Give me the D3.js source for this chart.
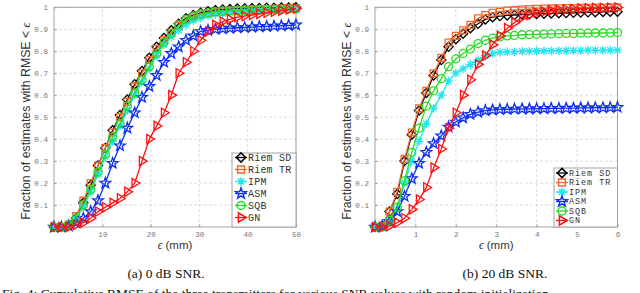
<!DOCTYPE html>
<html><head><meta charset="utf-8">
<script src="https://cdn.jsdelivr.net/npm/d3@7"></script>
<style>body{margin:0;background:#fff}svg{display:block}</style>
</head><body><svg id="c" width="640" height="293"></svg>
<script>
// ---- data ----
const seriesNames = ["Riem SD","Riem TR","IPM","ASM","SQB","GN"];
const xA = [0,1.52,3.03,4.55,6.06,7.58,9.09,10.61,12.12,13.64,15.15,16.67,18.18,19.70,21.21,22.73,24.24,25.76,27.27,28.79,30.30,31.82,33.33,34.85,36.36,37.88,39.39,40.91,42.42,43.94,45.45,46.97,48.48,50];
const sdA  = [0,0,0.01,0.04,0.11,0.19,0.28,0.36,0.44,0.51,0.58,0.65,0.71,0.77,0.82,0.86,0.895,0.925,0.95,0.965,0.975,0.982,0.987,0.99,0.992,0.994,0.995,0.996,0.997,0.998,0.998,0.999,0.999,1.0];
const trA  = [0,0,0.01,0.05,0.12,0.20,0.28,0.36,0.43,0.50,0.57,0.64,0.70,0.76,0.81,0.85,0.885,0.915,0.94,0.955,0.965,0.972,0.978,0.982,0.985,0.987,0.989,0.99,0.991,0.992,0.993,0.994,0.995,0.996];
const ipmA = [0,0,0.01,0.04,0.09,0.16,0.24,0.32,0.39,0.46,0.53,0.60,0.66,0.72,0.78,0.83,0.865,0.895,0.92,0.94,0.952,0.962,0.968,0.972,0.976,0.979,0.981,0.983,0.985,0.987,0.988,0.989,0.99,0.991];
const asmA = [0,0,0.005,0.02,0.04,0.07,0.12,0.20,0.29,0.37,0.45,0.52,0.59,0.64,0.69,0.75,0.79,0.82,0.85,0.87,0.89,0.895,0.90,0.903,0.905,0.907,0.908,0.91,0.912,0.913,0.915,0.916,0.918,0.92];
const sqbA = [0,0,0.01,0.04,0.10,0.17,0.25,0.33,0.41,0.47,0.55,0.61,0.67,0.73,0.79,0.84,0.88,0.92,0.945,0.96,0.97,0.975,0.98,0.982,0.984,0.986,0.987,0.988,0.989,0.99,0.99,0.991,0.992,0.993];
const gnA  = [0,0,0,0.01,0.02,0.04,0.07,0.09,0.11,0.13,0.16,0.20,0.30,0.40,0.46,0.52,0.60,0.70,0.75,0.80,0.85,0.89,0.92,0.935,0.945,0.955,0.96,0.965,0.97,0.975,0.98,0.985,0.99,0.995];

const xB = [0,0.18,0.36,0.55,0.73,0.91,1.09,1.27,1.45,1.64,1.82,2.00,2.18,2.36,2.55,2.73,2.91,3.09,3.27,3.45,3.64,3.82,4.00,4.18,4.36,4.55,4.73,4.91,5.09,5.27,5.45,5.64,5.82,6];
const sdB  = [0,0.005,0.07,0.15,0.30,0.42,0.53,0.61,0.69,0.76,0.82,0.855,0.88,0.905,0.925,0.945,0.955,0.96,0.963,0.965,0.967,0.969,0.97,0.971,0.972,0.973,0.974,0.975,0.976,0.977,0.978,0.979,0.98,0.98];
const trB  = [0,0.005,0.07,0.16,0.31,0.43,0.54,0.62,0.70,0.77,0.84,0.87,0.895,0.92,0.95,0.965,0.975,0.98,0.985,0.988,0.99,0.992,0.993,0.994,0.995,0.996,0.997,0.997,0.998,0.998,0.999,0.999,1.0,1.0];
const ipmB = [0,0,0.02,0.08,0.20,0.30,0.39,0.47,0.54,0.60,0.665,0.70,0.72,0.74,0.76,0.78,0.79,0.795,0.797,0.798,0.80,0.80,0.801,0.801,0.802,0.802,0.803,0.803,0.803,0.804,0.804,0.804,0.805,0.805];
const asmB = [0,0.005,0.025,0.07,0.14,0.22,0.29,0.34,0.38,0.415,0.455,0.478,0.497,0.513,0.523,0.53,0.533,0.535,0.536,0.537,0.538,0.538,0.539,0.539,0.54,0.54,0.541,0.541,0.542,0.542,0.543,0.543,0.544,0.545];
const sqbB = [0,0,0.03,0.09,0.21,0.34,0.45,0.55,0.62,0.675,0.73,0.765,0.79,0.81,0.835,0.85,0.86,0.865,0.87,0.872,0.875,0.876,0.877,0.878,0.879,0.88,0.881,0.881,0.882,0.882,0.883,0.883,0.884,0.885];
const gnB  = [0,0,0.005,0.02,0.04,0.08,0.125,0.18,0.27,0.355,0.45,0.52,0.60,0.67,0.74,0.78,0.83,0.87,0.905,0.93,0.955,0.965,0.975,0.98,0.985,0.988,0.99,0.992,0.994,0.995,0.996,0.997,0.998,0.999];

const yTicks = [0.1,0.2,0.3,0.4,0.5,0.6,0.7,0.8,0.9,1];
const yTickLabels = ["0.1","0.2","0.3","0.4","0.5","0.6","0.7","0.8","0.9","1"];
const xTicksA = [10,20,30,40,50];
const xTicksB = [1,2,3,4,5,6];
const captionA = "(a) 0 dB SNR.";
const captionB = "(b) 20 dB SNR.";
const figCaption = "Fig. 4: Cumulative RMSE of the three transmitters for various SNR values with random initialization";

// ---- styles ----
const colors = ["#000000","#EF6A32","#22E5F0","#1030F0","#22DD22","#FF1010"];
const markers = ["diamond","square","asterisk","star","circle","tri"];

function markerPath(type){
  const p = d3.path();
  if(type==="diamond"){const r=4.6;p.moveTo(0,-r);p.lineTo(r,0);p.lineTo(0,r);p.lineTo(-r,0);p.closePath();}
  else if(type==="square"){const r=3.4;p.rect(-r,-r,2*r,2*r);}
  else if(type==="circle"){p.arc(0,0,4,0,2*Math.PI);p.closePath();}
  else if(type==="asterisk"){const r=4.3;for(let k=0;k<4;k++){const a=k*Math.PI/4;p.moveTo(-r*Math.cos(a),-r*Math.sin(a));p.lineTo(r*Math.cos(a),r*Math.sin(a));}}
  else if(type==="star"){const R=5.6,ri=2.3;for(let k=0;k<10;k++){const a=-Math.PI/2+k*Math.PI/5;const rr=k%2?ri:R;const X=rr*Math.cos(a),Y=rr*Math.sin(a);if(k===0)p.moveTo(X,Y);else p.lineTo(X,Y);}p.closePath();}
  else if(type==="tri"){const r=5.2;p.moveTo(r,0);p.lineTo(-r*0.5,-r*0.9);p.lineTo(-r*0.5,r*0.9);p.closePath();}
  return p.toString();
}

const svg = d3.select("#c");
const tickFont = "'Liberation Mono', 'DejaVu Sans Mono', monospace";

function panel(opt){
  const x = d3.scaleLinear().domain(opt.xd).range(opt.xr);
  const y = d3.scaleLinear().domain([0,1]).range([227,7.3]);
  const g = svg.append("g");
  // grid
  g.selectAll(".gx").data(opt.xt).join("line")
    .attr("x1",d=>x(d)).attr("x2",d=>x(d)).attr("y1",y(0)).attr("y2",y(1))
    .attr("stroke","#d4d4d4").attr("stroke-width",0.8).attr("stroke-dasharray","3,2");
  g.selectAll(".gy").data(yTicks).join("line")
    .attr("x1",x.range()[0]).attr("x2",x.range()[1]).attr("y1",d=>y(d)).attr("y2",d=>y(d))
    .attr("stroke","#d4d4d4").attr("stroke-width",0.8).attr("stroke-dasharray","3,2");
  // frame
  g.append("rect").attr("x",x.range()[0]).attr("y",y(1)).attr("width",x.range()[1]-x.range()[0]).attr("height",y(0)-y(1))
    .attr("fill","none").attr("stroke","#9a9a9a").attr("stroke-width",0.9);
  // ticks (inward)
  const yAx = d3.axisLeft(y).tickValues(yTicks).tickSize(-2.5).tickPadding(6).tickFormat((d,i)=>yTickLabels[i]);
  const ya = g.append("g").attr("transform",`translate(${x.range()[0]},0)`).call(yAx);
  const xAx = d3.axisBottom(x).tickValues(opt.xt).tickSize(-2.5).tickPadding(5).tickFormat(d3.format("d"));
  const xa = g.append("g").attr("transform",`translate(0,${y(0)})`).call(xAx);
  [ya,xa].forEach(a=>{
    a.select(".domain").remove();
    a.selectAll(".tick line").attr("stroke","#9a9a9a");
    a.selectAll(".tick text").attr("fill","#777").style("font-family",tickFont).style("font-size","7.6px");
  });
  // series
  const data = opt.series;
  data.forEach((s,i)=>{
    const pts = opt.xs.map((xv,j)=>[xv,s[j]]);
    g.append("path").attr("d",d3.line().x(d=>x(d[0])).y(d=>y(d[1]))(pts))
      .attr("fill","none").attr("stroke",colors[i]).attr("stroke-width",1.3);
    g.selectAll(null).data(pts).join("path")
      .attr("transform",d=>`translate(${x(d[0])},${y(d[1])})`)
      .attr("d",markerPath(markers[i])).attr("fill","none").attr("stroke",colors[i]).attr("stroke-width",1.3);
  });
  // legend
  const L = opt.legend;
  g.append("rect").attr("x",L.x).attr("y",L.y).attr("width",L.w).attr("height",L.h)
    .attr("fill","#fff").attr("stroke","#9a9a9a").attr("stroke-width",0.9);
  seriesNames.forEach((n,i)=>{
    const cy = L.y0 + i*L.dy;
    g.append("line").attr("x1",L.mx-6).attr("x2",L.mx+6).attr("y1",cy).attr("y2",cy)
      .attr("stroke",colors[i]).attr("stroke-width",1.3);
    g.append("path").attr("transform",`translate(${L.mx},${cy})`).attr("d",markerPath(markers[i]))
      .attr("fill","none").attr("stroke",colors[i]).attr("stroke-width",1.5);
    g.append("text").attr("x",L.tx).attr("y",cy+L.fs*0.32).text(n)
      .style("font-family",tickFont).style("font-size",L.fs+"px").style("letter-spacing",L.ls+"px")
      .attr("fill","#333").attr("xml:space","preserve");
  });
  // y label
  const cx = opt.ylx, cyy = (y(0)+y(1))/2+4;
  const t = g.append("text").attr("transform",`translate(${cx},${cyy}) rotate(-90)`).attr("text-anchor","middle")
    .style("font-family","'Liberation Sans', Arial, sans-serif").style("font-size","12.3px").attr("fill","#333");
  t.append("tspan").text("Fraction of estimates with RMSE < ");
  t.append("tspan").text("ϵ").style("font-family","'Liberation Serif', serif").style("font-style","italic");
  // x label
  const xl = g.append("text").attr("x",(x.range()[0]+x.range()[1])/2).attr("y",249).attr("text-anchor","middle")
    .style("font-family","'Liberation Sans', Arial, sans-serif").style("font-size","11.5px").attr("fill","#333");
  xl.append("tspan").text("ϵ").style("font-family","'Liberation Serif', serif").style("font-style","italic");
  xl.append("tspan").text(" (mm)");
  // caption
  g.append("text").attr("x",opt.capx).attr("y",278).attr("text-anchor","middle").text(opt.cap)
    .style("font-family","'Liberation Serif', 'Times New Roman', serif").style("font-size","13.5px").attr("fill","#111");
}

panel({xd:[0,50],xr:[54,296],xs:xA,xt:xTicksA,series:[sdA,trA,ipmA,asmA,sqbA,gnA],
  legend:{x:232,y:153,w:64,h:74,y0:157.5,dy:12,mx:241,tx:248,fs:10,ls:0.2},ylx:30,capx:166,cap:captionA});
panel({xd:[0,6],xr:[375,617.5],xs:xB,xt:xTicksB,series:[sdB,trB,ipmB,asmB,sqbB,gnB],
  legend:{x:554,y:168,w:63.5,h:59,y0:173,dy:9.5,mx:562,tx:569,fs:8.4,ls:1.0},ylx:351,capx:505,cap:captionB});

svg.append("text").attr("x",2).attr("y",298).text(figCaption)
  .style("font-family","'Liberation Serif', 'Times New Roman', serif").style("font-size","13.5px").attr("fill","#111");
</script></body></html>
